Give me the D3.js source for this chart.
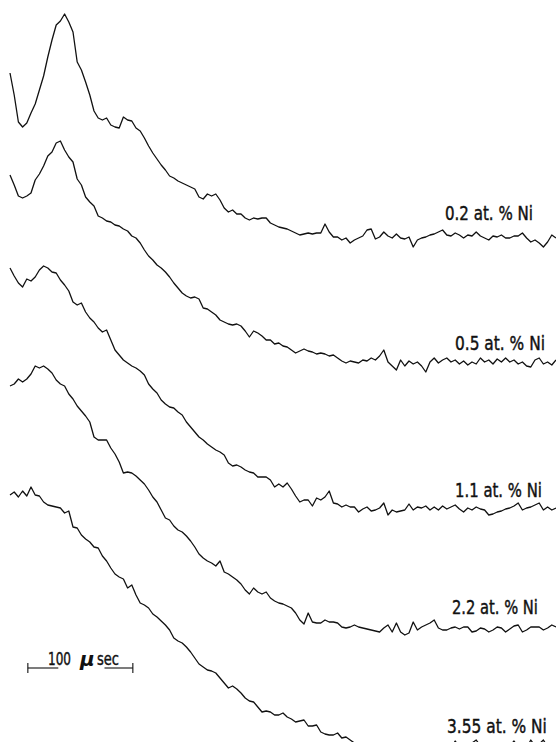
<!DOCTYPE html>
<html>
<head>
<meta charset="utf-8">
<script src="https://cdn.jsdelivr.net/npm/d3@7/dist/d3.min.js"></script>
<style>
  html, body { margin: 0; padding: 0; background: #fff; }
  svg { display: block; }
</style>
</head>
<body>
<script>
/* ------------------------------- Data ------------------------------- */
// sample times (µs) shared by all five oscilloscope traces
const timeUs = [
  0, 4, 8, 12, 16, 20, 24, 28, 32, 36, 40, 44, 48, 52, 56, 60, 64, 68, 72, 76,
  80, 84, 88, 92, 96, 100, 104, 108, 112, 116, 120, 124, 128, 132, 136, 140, 144, 148, 152, 156,
  160, 164, 168, 172, 176, 180, 184, 188, 192, 196, 200, 204, 208, 212, 216, 220, 224, 228, 232, 236,
  240, 244, 248, 252, 256, 260, 264, 268, 272, 276, 280, 284, 288, 292, 296, 300, 304, 308, 312, 316,
  320, 324, 328, 332, 336, 340, 344, 348, 352, 356, 360, 364, 368, 372, 376, 380, 384, 388, 392, 396,
  400, 404, 408, 412, 416, 420, 424, 428, 432, 436, 440, 444, 448, 452, 456, 460, 464, 468, 472, 476,
  480, 484, 488, 492, 496, 500, 504, 508, 512, 516, 520
];

const traceLabels = ["0.2 at. % Ni", "0.5 at. % Ni", "1.1 at. % Ni", "2.2 at. % Ni", "3.55 at. % Ni"];

// signal (arb. units) above the trace's own tail level
const ni02 = [
  164, 142, 115, 110, 114, 124, 133, 147, 161, 180, 197, 212, 216, 223, 215, 205, 175, 167, 155, 142,
  126, 119, 117, 119, 112, 110, 109, 120, 117, 116, 109, 106, 99, 91, 84, 78, 72, 67, 61, 59,
  56, 54, 52, 50, 48, 40, 38, 43, 41, 43, 37, 29, 25, 27, 23, 23, 19, 17, 19, 18,
  19, 19, 14, 12, 10, 9, 8, 6, 4, 2, 3, 4, 3, 4, 4, 13, 5, 0, 0, -3,
  -1, -6, -3, -1, 1, 7, 8, -2, 0, 5, 1, -1, 3, -1, -2, 0, -10, -3, -1, 0,
  2, 3, 5, 7, 2, 1, 4, 2, -1, 2, 1, 5, 1, -1, -3, 1, 0, 2, -1, -1,
  1, 1, 4, -1, -5, -3, -6, -10, -5, 2, -1
];
const ni05 = [
  185, 175, 164, 162, 164, 167, 180, 186, 194, 204, 208, 217, 219, 210, 203, 198, 181, 175, 163, 158,
  154, 144, 142, 139, 138, 135, 134, 131, 129, 124, 122, 117, 110, 104, 100, 95, 92, 88, 83, 77,
  72, 67, 64, 62, 63, 61, 52, 51, 48, 45, 40, 38, 36, 35, 36, 34, 29, 23, 29, 27,
  24, 20, 20, 16, 17, 14, 13, 10, 7, 9, 11, 9, 8, 6, 7, 6, 4, 5, 2, -1,
  -3, -1, -2, -3, 0, -1, 2, 0, 4, 10, -2, -6, -10, 0, -6, -1, -4, -2, -6, -12,
  -2, 2, -3, 0, 2, -2, 0, -4, -1, -5, -2, -4, 2, -2, 0, -4, 1, -2, 2, -2,
  0, -4, -2, -6, -7, 0, 2, -4, -2, -5, 0
];
const ni11 = [
  239, 231, 224, 220, 228, 226, 230, 237, 241, 239, 235, 234, 227, 222, 216, 205, 202, 204, 195, 189,
  185, 179, 175, 177, 167, 157, 152, 147, 144, 141, 139, 136, 132, 123, 118, 114, 107, 103, 100, 99,
  95, 92, 85, 80, 75, 70, 67, 63, 60, 57, 55, 52, 44, 41, 42, 40, 37, 35, 34, 30,
  30, 30, 27, 20, 23, 20, 24, 18, 11, 5, 7, 7, 1, 9, 7, 10, 16, 4, 3, 0,
  2, 0, 0, -5, -2, 0, -4, -3, -1, 4, -8, -3, -5, -4, -3, 3, -3, 0, -1, 1,
  -3, 0, -3, 1, -2, 0, 2, -2, -5, -1, -3, 0, -2, -3, -8, -7, -5, -4, -2, -1,
  1, 4, -3, -1, 0, 2, 4, -3, 0, -3, -1
];
const ni22 = [
  241, 243, 248, 245, 248, 253, 261, 259, 261, 258, 254, 247, 243, 241, 233, 228, 221, 216, 211, 205,
  190, 187, 187, 187, 179, 173, 165, 154, 155, 154, 151, 147, 143, 137, 130, 125, 117, 109, 107, 101,
  97, 95, 91, 86, 80, 73, 69, 66, 64, 61, 66, 55, 53, 50, 47, 43, 37, 33, 39, 35,
  33, 35, 29, 26, 24, 23, 21, 19, 14, 7, 3, 14, 5, 4, 4, 7, 5, 5, 4, 0,
  -1, 0, 2, 0, -1, -2, -3, -4, -5, -1, 2, -5, 4, -5, -8, -6, 5, -3, 0, 2,
  4, 7, -1, -3, -3, -1, 0, -2, 0, 0, -5, -4, -1, -2, -5, -3, 0, -1, -5, -2,
  1, 2, -5, -3, 0, 0, 0, -3, -1, 2, 0
];
const ni355 = [
  251, 254, 249, 255, 250, 259, 251, 250, 244, 241, 240, 239, 238, 233, 235, 219, 218, 211, 207, 204,
  199, 198, 190, 185, 178, 172, 169, 167, 158, 161, 151, 143, 141, 138, 132, 129, 125, 121, 116, 108,
  105, 103, 99, 94, 88, 82, 79, 76, 75, 73, 68, 63, 58, 60, 57, 53, 48, 45, 44, 39,
  34, 35, 34, 31, 31, 33, 29, 27, 24, 25, 26, 20, 20, 21, 14, 12, 11, 11, 13, 8,
  9, 6, 3, 1, 2, -1, 0, -2, 0, -2, 1, -2, 0, -3, -1, -2, 0, -3, -1, -2,
  1, -2, 0, -2, 1, -2, 5, -1, 2, -2, 3, 6, 0, 2, -2, 1, -2, 1, -2, 0,
  5, -1, 2, -2, 6, 0, 2, 6, -1, 2, -1
];
const series = [ni02, ni05, ni11, ni22, ni355];

const scaleBarUs = [17, 117];   // 100 µsec marker

/* ------------------------------ Layout ------------------------------ */
const width = 556, height = 742;
const traceBase = [237, 360, 507, 627, 746];     // tail level of each trace
// label left x, baseline y, drawn width
const labelPos = [[445, 220, 88], [455, 350, 90], [455, 497, 87], [452, 614, 86], [447, 733, 100]];

const svg = d3.select("body").append("svg")
  .attr("width", width)
  .attr("height", height)
  .style("font-family", "'DejaVu Sans', 'Liberation Sans', sans-serif");

const x = d3.scaleLinear().domain([0, 520]).range([10, 556]);
const y = d3.scaleLinear().domain([0, 260]).range([0, -260]);

const line = d3.line()
  .x((d, i) => x(timeUs[i]))
  .y(d => y(d));

series.forEach((s, k) => {
  const g = svg.append("g").attr("transform", `translate(0,${traceBase[k]})`);
  g.append("path")
    .datum(s)
    .attr("d", line)
    .attr("fill", "none")
    .attr("stroke", "#111")
    .attr("stroke-width", 1.3)
    .attr("stroke-linejoin", "round");
});

// condensed lettering: draw, measure, then squeeze horizontally to the wanted width
function squeezedText(str, px, py, w, size) {
  const t = svg.append("text")
    .attr("font-size", size)
    .attr("fill", "#111")
    .attr("stroke", "#111")
    .attr("stroke-width", 0.45)
    .text(str);
  const natural = t.node().getComputedTextLength();
  t.attr("transform", `translate(${px},${py}) scale(${w / natural},1)`);
  return t;
}

traceLabels.forEach((d, i) => squeezedText(d, labelPos[i][0], labelPos[i][1], labelPos[i][2], 19));

/* ----------------------------- Scale bar ----------------------------- */
const sb = svg.append("g").attr("stroke", "#111").attr("stroke-width", 1.1);
const barY = 668;
sb.append("line").attr("x1", x(scaleBarUs[0])).attr("x2", x(scaleBarUs[0] + 29)).attr("y1", barY).attr("y2", barY);
sb.append("line").attr("x1", x(scaleBarUs[1] - 27)).attr("x2", x(scaleBarUs[1])).attr("y1", barY).attr("y2", barY);
scaleBarUs.forEach(t => {
  sb.append("line").attr("x1", x(t)).attr("x2", x(t)).attr("y1", barY - 5).attr("y2", barY + 5);
});

squeezedText("100", 48, 665, 23, 18);
svg.append("text").attr("x", 80).attr("y", 666)
  .attr("font-size", 20).attr("font-style", "italic").attr("font-weight", "bold")
  .attr("fill", "#111").text("µ");
squeezedText("sec", 97, 665, 22, 18);
</script>
</body>
</html>
